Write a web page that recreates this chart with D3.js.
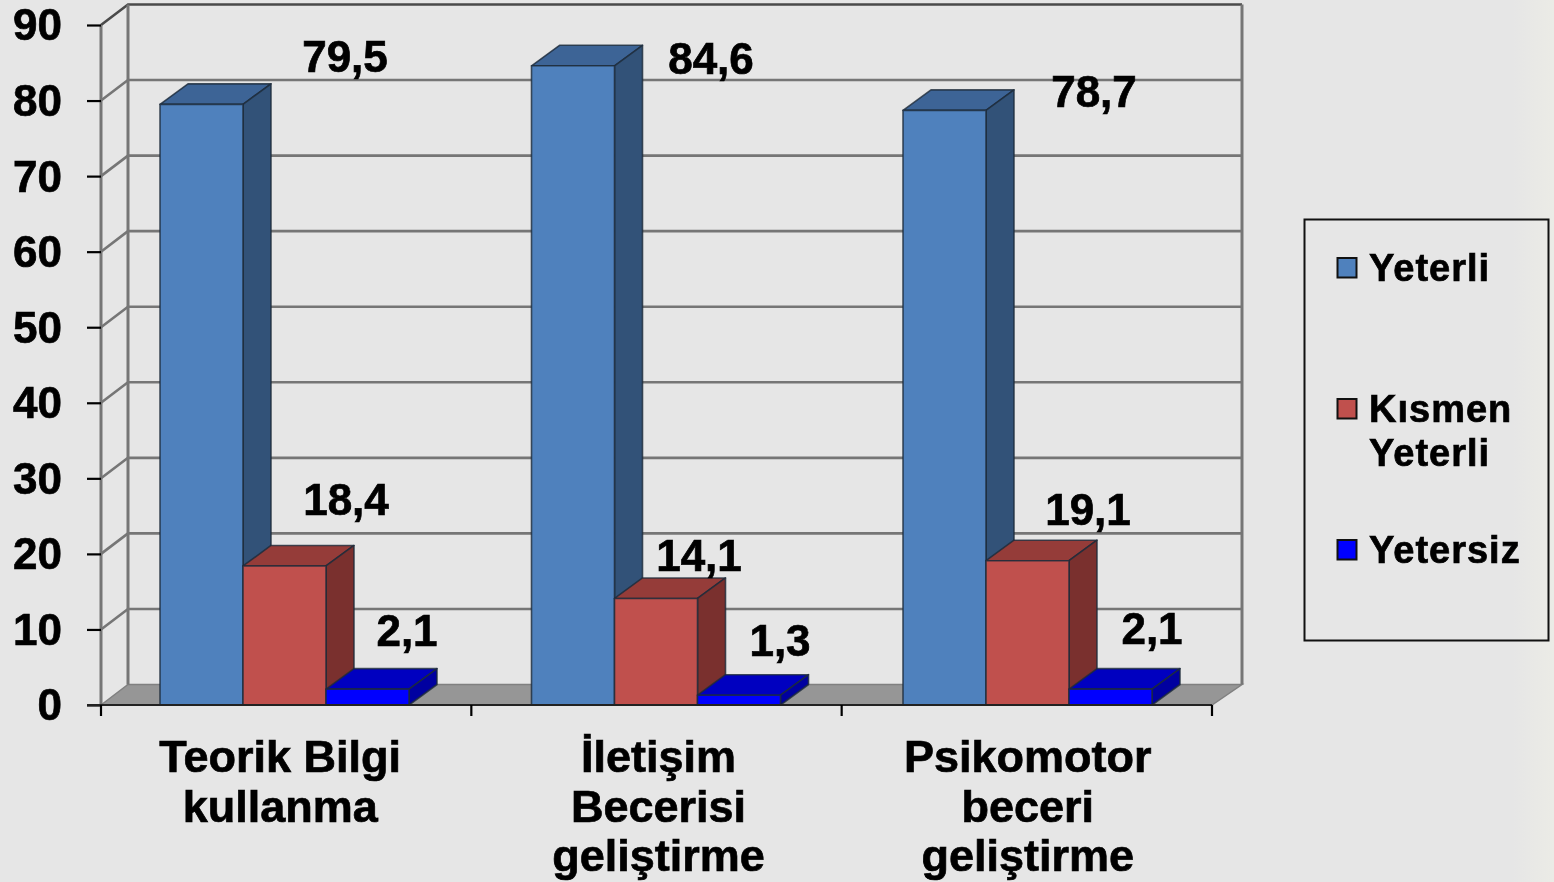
<!DOCTYPE html>
<html>
<head>
<meta charset="utf-8">
<script src="https://cdn.jsdelivr.net/npm/d3@7"></script>
<style>
  html, body { margin: 0; padding: 0; background: #e6e6e6; overflow: hidden; }
  svg { display: block; filter: blur(0.6px); }
  text { font-family: "Liberation Sans", Arial, sans-serif; font-weight: bold; fill: #000; stroke: #000; stroke-width: 0.7px; }
</style>
</head>
<body>
<div id="container"></div>
<script>
const categories = ["Teorik Bilgi\nkullanma", "İletişim\nBecerisi\ngeliştirme", "Psikomotor\nbeceri\ngeliştirme"];
const seriesNames = ["Yeterli", "Kısmen\nYeterli", "Yetersiz"];
const yeterli = [79.5, 84.6, 78.7];
const kismen = [18.4, 14.1, 19.1];
const yetersiz = [2.1, 1.3, 2.1];
const yTicks = [0, 10, 20, 30, 40, 50, 60, 70, 80, 90];

window.onload = () => {
  const width = 1554, height = 882;
  const depth = {x: 27, y: -20.5};
  const barDepth = {x: 28, y: -20.5};

  const svg = d3.select("#container").append("svg")
    .attr("width", width)
    .attr("height", height);

  const values = [yeterli, kismen, yetersiz];
  const palette = [
    {front: "#4f81bd", side: "#325278", top: "#3d6496"},
    {front: "#c0504d", side: "#7a302e", top: "#953c39"},
    {front: "#0000ff", side: "#0000a0", top: "#0000c0"}
  ];

  // background, slightly lighter towards the right edge
  const grad = svg.append("defs").append("linearGradient").attr("id", "bg");
  grad.append("stop").attr("offset", "0.97").attr("stop-color", "#e6e6e6");
  grad.append("stop").attr("offset", "1").attr("stop-color", "#ecece6");
  svg.append("rect").attr("x", -5).attr("y", -5)
    .attr("width", width + 10).attr("height", height + 10)
    .attr("fill", "url(#bg)");

  const x = d3.scaleBand().domain(categories).range([101, 1212]);
  // the bars run on a very slightly wider step than the axis ticks
  const barX = d3.scaleBand().domain(categories).range([101, 1215.5]);
  const inner = d3.scaleBand().domain(d3.range(3)).range([59, 308]);
  const y = d3.scaleLinear().domain([0, 90]).range([705, 25]);
  const y0 = y(0);
  const left = x.range()[0], right = x.range()[1];

  // walls
  const wall = svg.append("g").attr("fill", "none");
  wall.append("g").selectAll("path")
    .data(yTicks.filter(d => d > 0))
    .enter().append("path")
    .attr("d", d => `M${left},${y(d)}L${left + depth.x},${y(d) + depth.y}L${right + 30},${y(d) + depth.y}`)
    .attr("stroke", d => d === 90 ? "#4a4a4a" : "#767676")
    .attr("stroke-width", 2.6);

  wall.append("path")
    .attr("d", `M${left},${y0}L${left + depth.x},${y0 + depth.y}L${right + 30},${y0 + depth.y}L${right},${y0}Z`)
    .attr("fill", "#969696")
    .attr("stroke", "#808080")
    .attr("stroke-width", 1.5);

  wall.append("path")
    .attr("d", `M${left},${y0}V${y(90)}M${left + depth.x},${y0 + depth.y}V${y(90) + depth.y}M${right + 30},${y0 + depth.y}V${y(90) + depth.y}`)
    .attr("stroke", "#767676")
    .attr("stroke-width", 3);

  // bars: top, side, then front, series left to right so each covers the last
  const bars = svg.append("g");
  categories.forEach((c, ci) => {
    values.forEach((vals, si) => {
      const bx = barX(c) + inner(si);
      const bw = inner.bandwidth();
      const by = y(vals[ci]);
      const g = bars.append("g")
        .attr("stroke", "#1d2a3a")
        .attr("stroke-opacity", 0.8)
        .attr("stroke-width", 1.6)
        .attr("stroke-linejoin", "round");
      g.append("path")
        .attr("d", `M${bx},${by}l${barDepth.x},${barDepth.y}h${bw}l${-barDepth.x},${-barDepth.y}Z`)
        .attr("fill", palette[si].top);
      g.append("path")
        .attr("d", `M${bx + bw},${by}l${barDepth.x},${barDepth.y}V${y0 + barDepth.y}L${bx + bw},${y0}Z`)
        .attr("fill", palette[si].side);
      g.append("rect")
        .attr("x", bx).attr("y", by)
        .attr("width", bw).attr("height", y0 - by)
        .attr("fill", palette[si].front);
    });
  });

  // axes
  const yAxis = svg.append("g")
    .attr("transform", `translate(${left},0)`)
    .call(d3.axisLeft(y).tickValues(yTicks).tickSize(14).tickPadding(25));
  yAxis.select(".domain").remove();
  yAxis.selectAll("line").attr("stroke", "#000").attr("stroke-width", 2.2);
  yAxis.selectAll("text")
    .style("font-family", '"Liberation Sans", Arial, sans-serif')
    .style("font-size", "44px")
    .style("font-weight", "bold")
    .attr("dy", "0.34em");

  const xAxis = svg.append("g")
    .attr("transform", `translate(0,${y0})`);
  xAxis.append("path")
    .attr("d", `M${left - 14},0H${right}`)
    .attr("stroke", "#222")
    .attr("stroke-width", 2.2);
  xAxis.selectAll(".edge")
    .data(categories.map(c => x(c)).concat([right]))
    .enter().append("line")
    .attr("class", "edge")
    .attr("x1", d => d).attr("x2", d => d)
    .attr("y1", 0).attr("y2", 11)
    .attr("stroke", "#000")
    .attr("stroke-width", 2.2);

  // category labels sit a little off the band centres in the original
  const catShift = [-6, 2, 1];
  const catLabels = svg.append("g").attr("text-anchor", "middle").style("font-size", "45px");
  categories.forEach((c, i) => {
    const t = catLabels.append("text")
      .attr("x", x(c) + x.bandwidth() / 2 + catShift[i])
      .attr("y", 772);
    c.split("\n").forEach((line, li) => {
      t.append("tspan")
        .attr("x", x(c) + x.bandwidth() / 2 + catShift[i])
        .attr("dy", li === 0 ? 0 : 49.5)
        .text(line);
    });
  });

  // value labels, hand placed relative to their bars like the original
  const labelShift = [
    [[143.5, -32], [61.5, -51], [39.5, -43]],
    [[138, 8], [43, -27], [41, -39]],
    [[149.5, -3], [60.5, -36], [41.5, -45]]
  ];
  const valueLabels = svg.append("g").attr("text-anchor", "middle").style("font-size", "44px");
  categories.forEach((c, ci) => {
    values.forEach((vals, si) => {
      const cx = barX(c) + inner(si) + inner.bandwidth() / 2;
      valueLabels.append("text")
        .attr("x", cx + labelShift[ci][si][0])
        .attr("y", y(vals[ci]) + labelShift[ci][si][1])
        .text(String(vals[ci]).replace(".", ","));
    });
  });

  // legend
  const legend = svg.append("g");
  legend.append("rect")
    .attr("x", 1304.5).attr("y", 219.5)
    .attr("width", 244).attr("height", 421)
    .attr("fill", "none").attr("stroke", "#111").attr("stroke-width", 2);
  const legendY = [258, 399, 540];
  seriesNames.forEach((name, i) => {
    legend.append("rect")
      .attr("x", 1337.5).attr("y", legendY[i])
      .attr("width", 19).attr("height", 19.5)
      .attr("fill", palette[i].front)
      .attr("stroke", "#111").attr("stroke-width", 2);
    const t = legend.append("text")
      .attr("y", legendY[i] + 23)
      .style("font-size", "38px")
      .style("letter-spacing", "1px");
    name.split("\n").forEach((line, li) => {
      t.append("tspan")
        .attr("x", 1369)
        .attr("dy", li === 0 ? 0 : 44)
        .text(line);
    });
  });
};
</script>
</body>
</html>
